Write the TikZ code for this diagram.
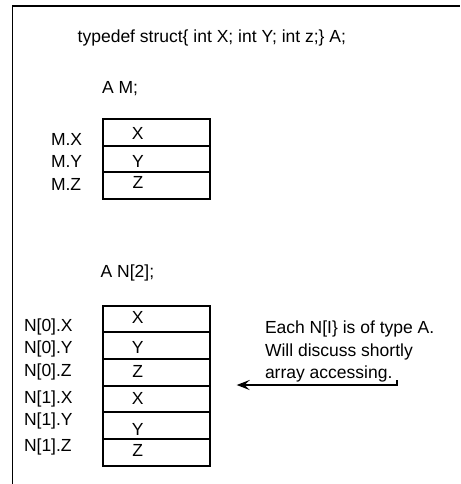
\documentclass[tikz,border=0pt]{standalone}
\usepackage{fontspec}
\setmainfont{Liberation Sans}
\usetikzlibrary{arrows.meta}
\begin{document}
\begin{tikzpicture}[x=1pt,y=-1pt,
  every node/.style={inner sep=0pt,outer sep=0pt,font=\fontsize{17.5}{21}\selectfont},
  txt/.style={anchor=base west},
  letter/.style={anchor=base},
  cell/.style={draw,line width=2pt,minimum width=106.5pt,minimum height=26.6pt},
  frame/.style={line width=1.4pt},
  pointer/.style={line width=1.7pt,-{Stealth[length=13pt,width=10pt,inset=5pt]}}]
\useasboundingbox (0,0) rectangle (460,484);
% page frame (left and top edges)
\draw[frame] (12.5,484) |- (460,6);

% type definition
\node[txt] (def) at (77.7,43) {typedef struct\{ int X; int Y; int z;\} A;};

% single struct M
\node[txt] (declM) at (102,93.3) {A M;};
\foreach \name/\yc in {mx/132.2, my/158.8, mz/185.3}
  \node[cell] (\name) at (156.7,\yc) {};
\node[letter] (mxl) at (137.6,139.3) {X};
\node[letter] (myl) at (138,167.7) {Y};
\node[letter] (mzl) at (138,188.3) {Z};
\node[txt] (labmx) at (51,145) {M.X};
\node[txt] (labmy) at (51,167.7) {M.Y};
\node[txt] (labmz) at (51,190) {M.Z};

% array of two structs N
\node[txt] (declN) at (100.7,277.3) {A N[2];};
\foreach \name/\yc in {n0x/318.9, n0y/345.5, n0z/372.3, n1x/399, n1y/425.7, n1z/452.4}
  \node[cell] (\name) at (156.7,\yc) {};
\node[letter] (n0xl) at (137.7,323.3) {X};
\node[letter] (n0yl) at (137.7,353.3) {Y};
\node[letter] (n0zl) at (137.7,377) {Z};
\node[letter] (n1xl) at (137.7,404) {X};
\node[letter] (n1yl) at (137.7,435) {Y};
\node[letter] (n1zl) at (137.7,456.7) {Z};
\node[txt] (labn0x) at (24,331.7) {N[0].X};
\node[txt] (labn0y) at (24,353.3) {N[0].Y};
\node[txt] (labn0z) at (24,376.7) {N[0].Z};
\node[txt] (labn1x) at (24,403.3) {N[1].X};
\node[txt] (labn1y) at (24,425) {N[1].Y};
\node[txt] (labn1z) at (24,451) {N[1].Z};

% note with underline arrow
\node[txt] (note1) at (265,333.3) {Each N[I\} is of type A.};
\node[txt] (note2) at (265,356.7) {Will discuss shortly};
\node[txt] (note3) at (265,378.3) {array accessing.};
\coordinate (hook) at (397,380);
\coordinate (bend) at (397,385);
\coordinate (tip) at (236.7,385);
\draw[pointer] (hook) -- (bend) -- (tip);
\end{tikzpicture}
\end{document}
